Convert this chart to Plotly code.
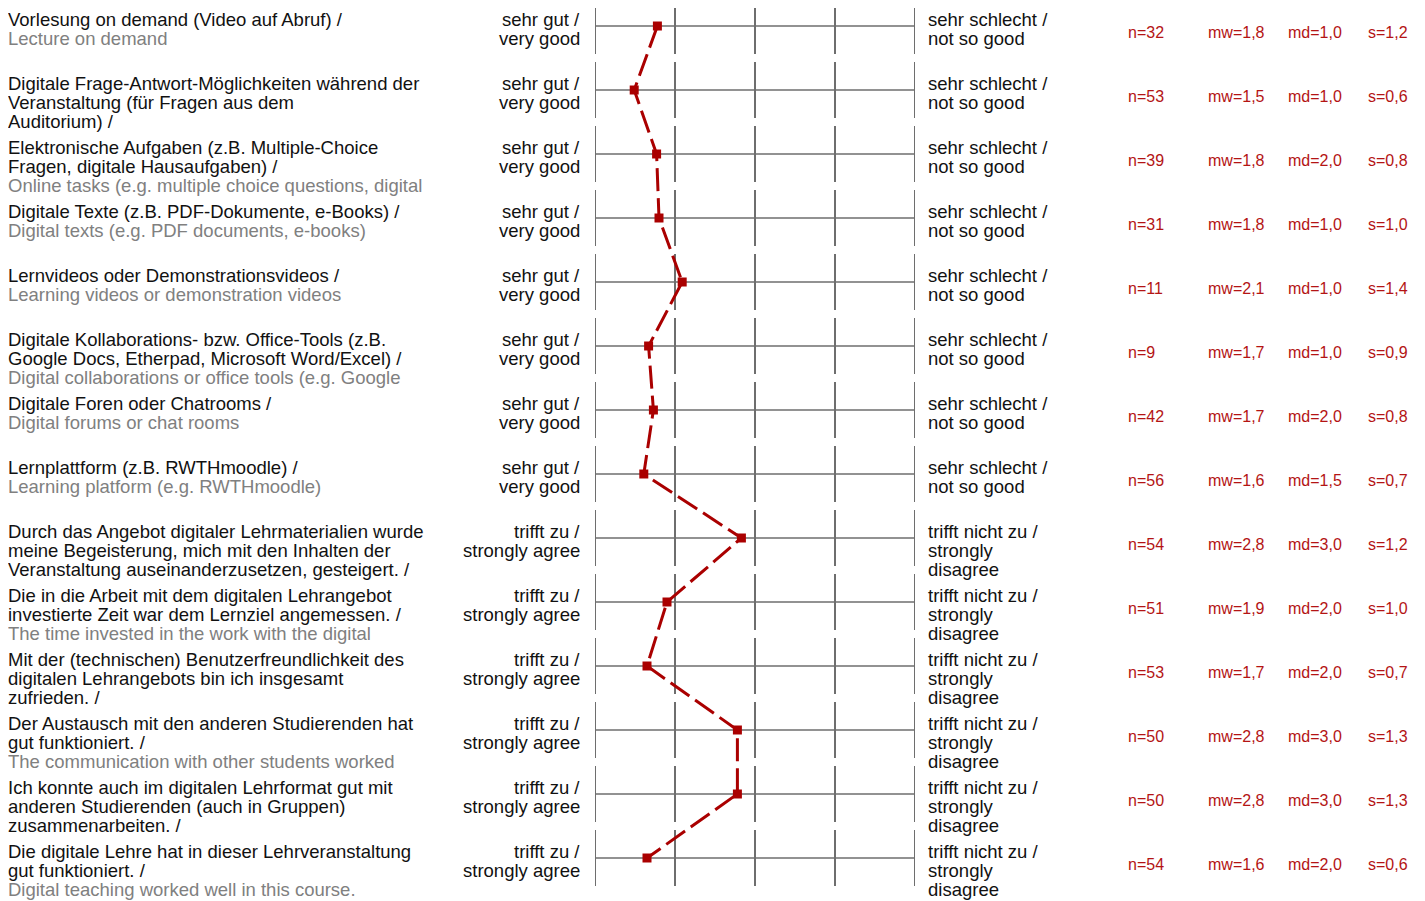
import plotly.graph_objects as go

# the page body adds an 8px margin, so the figure is drawn 8px smaller
# and every pixel position below is given in page pixels minus that offset
PAD = 8
W, H = 1425 - PAD, 901 - PAD

# question texts: german lines and the visible english lines
german = [
    ["Vorlesung on demand (Video auf Abruf) /"],
    ["Digitale Frage-Antwort-Möglichkeiten während der", "Veranstaltung (für Fragen aus dem", "Auditorium) /"],
    ["Elektronische Aufgaben (z.B. Multiple-Choice", "Fragen, digitale Hausaufgaben) /"],
    ["Digitale Texte (z.B. PDF-Dokumente, e-Books) /"],
    ["Lernvideos oder Demonstrationsvideos /"],
    ["Digitale Kollaborations- bzw. Office-Tools (z.B.", "Google Docs, Etherpad, Microsoft Word/Excel) /"],
    ["Digitale Foren oder Chatrooms /"],
    ["Lernplattform (z.B. RWTHmoodle) /"],
    ["Durch das Angebot digitaler Lehrmaterialien wurde", "meine Begeisterung, mich mit den Inhalten der", "Veranstaltung auseinanderzusetzen, gesteigert. /"],
    ["Die in die Arbeit mit dem digitalen Lehrangebot", "investierte Zeit war dem Lernziel angemessen. /"],
    ["Mit der (technischen) Benutzerfreundlichkeit des", "digitalen Lehrangebots bin ich insgesamt", "zufrieden. /"],
    ["Der Austausch mit den anderen Studierenden hat", "gut funktioniert. /"],
    ["Ich konnte auch im digitalen Lehrformat gut mit", "anderen Studierenden (auch in Gruppen)", "zusammenarbeiten. /"],
    ["Die digitale Lehre hat in dieser Lehrveranstaltung", "gut funktioniert. /"],
]
english = [
    ["Lecture on demand"],
    [],
    ["Online tasks (e.g. multiple choice questions, digital"],
    ["Digital texts (e.g. PDF documents, e-books)"],
    ["Learning videos or demonstration videos"],
    ["Digital collaborations or office tools (e.g. Google"],
    ["Digital forums or chat rooms"],
    ["Learning platform (e.g. RWTHmoodle)"],
    [],
    ["The time invested in the work with the digital"],
    [],
    ["The communication with other students worked"],
    [],
    ["Digital teaching worked well in this course."],
]

left_labels = [["sehr gut /", "very good"]] * 8 + [["trifft zu /", "strongly agree"]] * 6
right_labels = [["sehr schlecht /", "not so good"]] * 8 + [["trifft nicht zu /", "strongly", "disagree"]] * 6

means = [1.78, 1.49, 1.77, 1.80, 2.09, 1.67, 1.73, 1.61, 2.83, 1.90, 1.65, 2.78, 2.78, 1.65]
n_vals = ["32", "53", "39", "31", "11", "9", "42", "56", "54", "51", "53", "50", "50", "54"]
mw_vals = ["1,8", "1,5", "1,8", "1,8", "2,1", "1,7", "1,7", "1,6", "2,8", "1,9", "1,7", "2,8", "2,8", "1,6"]
md_vals = ["1,0", "1,0", "2,0", "1,0", "1,0", "1,0", "2,0", "1,5", "3,0", "2,0", "2,0", "3,0", "3,0", "2,0"]
s_vals = ["1,2", "0,6", "0,8", "1,0", "1,4", "0,9", "0,8", "0,7", "1,2", "1,0", "0,7", "1,3", "1,3", "0,6"]

rows = list(range(len(means)))
ROW = 64.0
TOP = 26 - PAD  # centre of the first row
FONT = "Arial, Liberation Sans, sans-serif"
RED = "#aa0000"
STAT = "#b41414"
GRID = "#6e6e6e"

fig = go.Figure()
fig.add_trace(go.Scatter(
    x=means, y=rows, mode="lines+markers",
    line=dict(color=RED, width=3, dash="23px,7px"),
    marker=dict(symbol="square", size=9, color=RED),
    hoverinfo="skip",
))

shapes = []
for i in rows:
    shapes.append(dict(type="line", xref="x", yref="y", x0=1, x1=5, y0=i, y1=i,
                       line=dict(color=GRID, width=1.3), layer="below"))
    for v in range(1, 6):
        shapes.append(dict(type="line", xref="x", yref="y", x0=v, x1=v,
                           y0=i - 28 / ROW, y1=i + 28 / ROW,
                           line=dict(color=GRID, width=2), layer="below"))

ann = []


def txt(px, i, off, text, color, anchor, size=18.5):
    ann.append(dict(xref="paper", yref="y", x=(px - PAD) / W, y=i + off / ROW, text=text,
                    showarrow=False, xanchor=anchor, yanchor="middle",
                    font=dict(family=FONT, size=size, color=color)))


for i in rows:
    lines = [(t, "#111111") for t in german[i]] + [(t, "#808080") for t in english[i]]
    for k, (t, c) in enumerate(lines[:3]):
        txt(6, i, -7 + 19 * k, t, c, "left")
    for k, t in enumerate(left_labels[i]):
        txt(582, i, -7 + 19 * k, t, "#111111", "right")
    for k, t in enumerate(right_labels[i]):
        txt(926, i, -7 + 19 * k, t, "#111111", "left")
    txt(1126, i, 6.5, "n=" + n_vals[i], STAT, "left", 16)
    txt(1206, i, 6.5, "mw=" + mw_vals[i], STAT, "left", 16)
    txt(1286, i, 6.5, "md=" + md_vals[i], STAT, "left", 16)
    txt(1366, i, 6.5, "s=" + s_vals[i], STAT, "left", 16)

fig.update_layout(
    width=W, height=H, margin=dict(l=0, r=0, t=0, b=0),
    paper_bgcolor="white", plot_bgcolor="white", showlegend=False,
    xaxis=dict(domain=[(595 - PAD) / W, (915 - PAD) / W], range=[1, 5], visible=False, fixedrange=True),
    yaxis=dict(domain=[0, 1], range=[(H - TOP) / ROW, -TOP / ROW], visible=False, fixedrange=True),
    shapes=shapes, annotations=ann,
)

fig.write_html("out.html", config={"displayModeBar": False})
